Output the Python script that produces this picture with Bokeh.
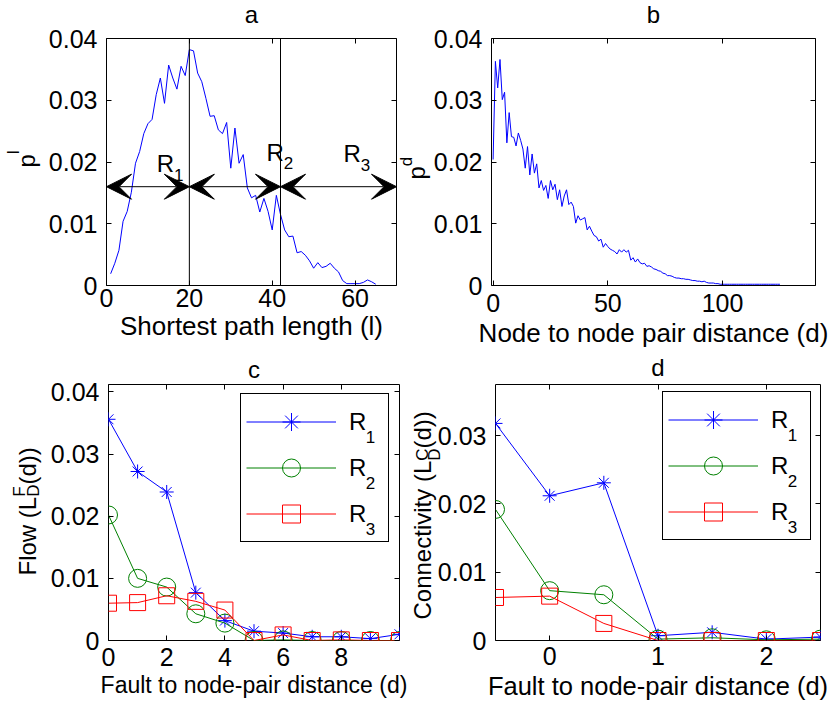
import math
from bokeh.plotting import figure
from bokeh.layouts import column, row
from bokeh.models import (Range1d, Label, Arrow, VeeHead, Span, Legend, LegendItem, Title,
                          FixedTicker, LinearAxis, CustomJSTickFormatter)
from bokeh.embed import file_html
from bokeh.resources import INLINE

# ---------------- data ----------------
# panel a: shortest path length distribution
a_l = list(range(1, 66))
a_p = [0.0019, 0.0036, 0.0057, 0.0104, 0.0120, 0.0151, 0.0198, 0.0217, 0.0246, 0.0262,
       0.0269, 0.0309, 0.0336, 0.0295, 0.0357, 0.0336, 0.0318, 0.0355, 0.0340, 0.0382,
       0.0380, 0.0344, 0.0330, 0.0303, 0.0274, 0.0275, 0.0252, 0.0246, 0.0264, 0.0190,
       0.0255, 0.0198, 0.0212, 0.0158, 0.0142, 0.0146, 0.0119, 0.0141, 0.0120, 0.0090,
       0.0146, 0.0115, 0.0090, 0.0079, 0.0080, 0.0053, 0.0055, 0.0049, 0.0040, 0.0028,
       0.0037, 0.0029, 0.0031, 0.0036, 0.0028, 0.0022, 0.0008, 0.0003, 0.0003, 0.0003,
       0.0003, 0.0005, 0.0009, 0.0006, 0.0002]
region_bounds = [0, 20, 42, 70]
region_subs = ["1", "2", "3"]
region_label_x = [12.1, 38.6, 57.2]
region_label_y = [0.0197, 0.0216, 0.0213]
arrow_y = 0.016

# panel b: node to node pair distance distribution
b_d = list(range(0, 126))
b_p = [0.0204, 0.0363, 0.0320, 0.0366, 0.0301, 0.0313, 0.0231, 0.0280, 0.0241, 0.0240,
       0.0226, 0.0247, 0.0235, 0.0221, 0.0190, 0.0225, 0.0179, 0.0213, 0.0182, 0.0197,
       0.0158, 0.0170, 0.0154, 0.0162, 0.0141, 0.0170, 0.0155, 0.0164, 0.0139, 0.0155,
       0.0128, 0.0145, 0.0155, 0.0131, 0.0135, 0.0128, 0.0101, 0.0113, 0.0106, 0.0108,
       0.0110, 0.0090, 0.0096, 0.0088, 0.0081, 0.0079, 0.0072, 0.0075, 0.0062, 0.0068,
       0.0063, 0.0059, 0.0057, 0.0055, 0.0051, 0.0058, 0.0054, 0.0058, 0.0054, 0.0057,
       0.0041, 0.0045, 0.0038, 0.0043, 0.0037, 0.0035, 0.0036, 0.0031, 0.0032, 0.0030,
       0.0027, 0.0026, 0.0024, 0.0023, 0.0020, 0.0019, 0.0016, 0.0016, 0.0015, 0.0013,
       0.0012, 0.0012, 0.0011, 0.0011, 0.0010, 0.0010, 0.0009, 0.0008, 0.0008, 0.0007,
       0.0007, 0.0006, 0.0007, 0.0005, 0.0004, 0.0004, 0.0004, 0.0003, 0.0003, 0.0002,
       0.0002, 0.0002, 0.0002, 0.0002, 0.0002, 0.0002, 0.0002, 0.0002, 0.0002, 0.0002,
       0.0002, 0.0002, 0.0002, 0.0002, 0.0002, 0.0002, 0.0002, 0.0002, 0.0002, 0.0002,
       0.0002, 0.0002, 0.0002, 0.0002, 0.0002, 0.0002]

# panel c: flow
c_d = [0, 1, 2, 3, 4, 5, 6, 7, 8, 9, 10]
c_r1 = [0.0356, 0.0272, 0.0239, 0.0077, 0.0032, 0.0015, 0.0012, 0.0006, 0.0006, 0.0003, 0.0010]
c_r2 = [0.0202, 0.0100, 0.0086, 0.0043, 0.0028, 0.0000, 0.0001, 0.0000, 0.0000, 0.0000, 0.0000]
c_r3 = [0.0060, 0.0061, 0.0072, 0.0063, 0.0049, 0.0000, 0.0009, 0.0000, 0.0001, 0.0000, 0.0000]

# panel d: connectivity
d_d = [-0.5, 0, 0.5, 1, 1.5, 2, 2.5]
d_r1 = [0.0318, 0.0212, 0.0231, 0.0007, 0.0012, 0.0002, 0.0005]
d_r2 = [0.0192, 0.0073, 0.0067, 0.0002, 0.0004, 0.0001, 0.0002]
d_r3 = [0.0063, 0.0065, 0.0025, 0.0000, 0.0000, 0.0000, 0.0000]

series_names = ["R", "R", "R"]
series_colors = ["#0000ff", "#008000", "#ff0000"]

# ---------------- style helpers ----------------
FONT = "Liberation Sans"
TICK_FS = "25px"
YLAB_FS = 24
SUB_FS = 17
AXIS_W = 58  # width of the left tick-label panel

CW = {' ': 278, '(': 333, ')': 333, '-': 333, '.': 278, 'C': 722, 'D': 722, 'F': 611,
      'L': 556, 'R': 722, 'a': 556, 'c': 500, 'd': 556, 'e': 556, 'i': 222, 'l': 222,
      'n': 556, 'o': 556, 'p': 556, 't': 278, 'v': 500, 'w': 722, 'y': 500}


def tw(s, size):
    return sum(CW.get(ch, 556) for ch in s) * size / 1000.0


def th(size):
    return 1.117 * size


def base_fig(w, h, xr, yr, bl, br, bt, bb):
    p = figure(width=w, height=h, x_range=Range1d(*xr), y_range=Range1d(*yr),
               output_backend="svg", toolbar_location=None,
               min_border_left=bl, min_border_right=br,
               min_border_top=bt, min_border_bottom=bb)
    p.xgrid.visible = False
    p.ygrid.visible = False
    p.outline_line_color = "black"
    p.outline_line_width = 1
    p.outline_line_alpha = 1
    p.border_fill_color = "white"
    p.background_fill_color = "white"
    return p


def style_axes(p, xticks, yticks, xlabel, xlab_fs, x_ls, x_als):
    xa = p.xaxis[0]
    ya = p.yaxis[0]
    for ax, t in ((xa, xticks), (ya, yticks)):
        ax.ticker = FixedTicker(ticks=t)
        ax.major_tick_in = 5
        ax.major_tick_out = 0
        ax.major_tick_line_color = "black"
        ax.minor_tick_line_color = None
        ax.axis_line_color = None
        ax.major_label_text_font = FONT
        ax.major_label_text_font_size = TICK_FS
        ax.major_label_text_color = "black"
    ya.formatter = CustomJSTickFormatter(code="return tick == 0 ? '0' : tick.toFixed(2);")
    xa.major_label_standoff = x_ls
    ya.major_label_standoff = 9
    xa.axis_label = xlabel
    xa.axis_label_text_font = FONT
    xa.axis_label_text_font_size = xlab_fs
    xa.axis_label_text_font_style = "normal"
    xa.axis_label_text_color = "black"
    xa.axis_label_standoff = x_als
    blank = "return '';"
    top = LinearAxis(ticker=FixedTicker(ticks=xticks), formatter=CustomJSTickFormatter(code=blank),
                     major_label_text_font_size="0px", major_label_standoff=0,
                     major_tick_in=5, major_tick_out=0, minor_tick_line_color=None,
                     axis_line_color=None)
    right = LinearAxis(ticker=FixedTicker(ticks=yticks), formatter=CustomJSTickFormatter(code=blank),
                       major_label_text_font_size="0px", major_label_standoff=0,
                       major_tick_in=5, major_tick_out=0, minor_tick_line_color=None,
                       axis_line_color=None)
    p.add_layout(top, "above")
    p.add_layout(right, "right")


def spacer(p, side, size):
    p.add_layout(Title(text=" ", text_font_size="1px", standoff=size - 2 - th(1)), side)


def piece(p, side, text, size, align, offset):
    # zero-thickness title slot: the text's middle line sits on the slot edge
    p.add_layout(Title(text=text, text_font=FONT, text_font_size="%gpx" % size,
                       text_font_style="normal", text_color="black", align=align,
                       offset=offset, vertical_align="middle",
                       standoff=-(2 + th(size))), side)


def add_title(p, text, size, gap):
    spacer(p, "above", gap)
    piece(p, "above", text, size, "center", 0)


def add_ylabel(p, pieces):
    # pieces: (text, font size, middle line x relative to frame left, start along axis)
    edge = -AXIS_W
    for text, size, mx, off in sorted(pieces, key=lambda t: -t[2]):
        gap = edge - mx
        if gap > 0.5:
            spacer(p, "left", gap)
            edge = mx
        piece(p, "left", text, size, "left", off)


LEG_PAD, LEG_GW, LEG_GH, LEG_SP, LEG_SO, LEG_LW = 5, 90, 45, 1, 13, 34


def add_legend(p, rend_groups, loc):
    items = [LegendItem(label=n, renderers=rs) for n, rs in zip(series_names, rend_groups)]
    leg = Legend(items=items, location=loc, orientation="vertical",
                 glyph_width=LEG_GW, glyph_height=LEG_GH, label_height=LEG_GH,
                 label_width=LEG_LW, spacing=LEG_SP, padding=LEG_PAD, margin=0,
                 label_standoff=LEG_SO, label_text_font=FONT, label_text_font_size="24px",
                 label_text_baseline="alphabetic", label_text_color="black",
                 border_line_color="black", border_line_width=1, border_line_alpha=1,
                 background_fill_color=None)
    p.add_layout(leg, "center")
    leg_h = 2 * LEG_PAD + 3 * LEG_GH + 2 * LEG_SP
    sx = loc[0] + LEG_PAD + LEG_GW + LEG_SO + tw("R", 24)
    for i, sub in enumerate(region_subs):
        cy = loc[1] + leg_h - LEG_PAD - LEG_GH / 2.0 - i * (LEG_GH + LEG_SP)
        p.add_layout(Label(x=sx, y=cy - 14, x_units="screen", y_units="screen", text=sub,
                           text_baseline="alphabetic", text_font=FONT, level="overlay",
                           text_font_size="%dpx" % SUB_FS, text_color="black"))


def add_series(p, xs, ys_list):
    groups = []
    markers = [("asterisk", 14), ("circle", 18), ("square", 16)]
    for ys, col, (mk, ms) in zip(ys_list, series_colors, markers):
        lr = p.line(xs, ys, line_color=col, line_width=1)
        sr = p.scatter(xs, ys, marker=mk, size=ms, line_color=col, fill_color=None, line_width=1)
        groups.append([lr, sr])
    return groups


# ---------------- panel a ----------------
pa = base_fig(398, 353, (0, 70), (0, 0.04), 106, 2, 38, 61)
style_axes(pa, [0, 20, 40, 60], [0, 0.01, 0.02, 0.03, 0.04],
           "Shortest path length (l)", "26px", 3, 1)
pa.line(a_l, a_p, line_color="#0000ff", line_width=1)
for xb in region_bounds[1:-1]:
    pa.add_layout(Span(location=xb, dimension="height", line_color="black", line_width=1))
for x0, x1 in zip(region_bounds[:-1], region_bounds[1:]):
    pa.add_layout(Arrow(x_start=x0, x_end=x1, y_start=arrow_y, y_end=arrow_y,
                        line_color="black", line_width=1,
                        start=VeeHead(size=25, fill_color="black", line_color="black"),
                        end=VeeHead(size=25, fill_color="black", line_color="black")))
for lx, ly, sub in zip(region_label_x, region_label_y, region_subs):
    pa.add_layout(Label(x=lx, y=ly, text="R", text_baseline="alphabetic", text_font=FONT,
                        text_font_size="24px", text_color="black"))
    pa.add_layout(Label(x=lx, y=ly, x_offset=tw("R", 24), y_offset=-11, text=sub,
                        text_baseline="alphabetic", text_font=FONT,
                        text_font_size="%dpx" % SUB_FS, text_color="black"))
add_title(pa, "a", 24, 24.3)
s0 = 118
add_ylabel(pa, [("p", YLAB_FS, -76.9, s0), ("l", SUB_FS, -89.9, s0 + tw("p", YLAB_FS))])

# ---------------- panel b ----------------
pb = base_fig(433, 353, (-0.7, 140.5), (0, 0.04), 93, 16, 38, 68)
style_axes(pb, [0, 50, 100], [0, 0.01, 0.02, 0.03, 0.04],
           "Node to node pair distance (d)", "26px", 8, 3)
pb.line(b_d, b_p, line_color="#0000ff", line_width=1)
add_title(pb, "b", 24, 24.3)
s0 = 106
add_ylabel(pb, [("p", YLAB_FS, -72.3, s0), ("d", SUB_FS, -81.9, s0 + tw("p", YLAB_FS))])

# ---------------- panel c ----------------
pc = base_fig(408, 362, (0, 10), (0, 0.0412), 108, 9, 29, 75)
style_axes(pc, [0, 2, 4, 6, 8], [0, 0.01, 0.02, 0.03, 0.04],
           "Fault to node-pair distance (d)", "23px", 7, 3)
gc = add_series(pc, c_d, [c_r1, c_r2, c_r3])
add_legend(pc, gc, (132, 98))
add_title(pc, "c", 24, 15.3)
s0 = 65
s1 = s0 + tw("Flow (L", YLAB_FS)
s2 = s1 + tw("D", SUB_FS)
add_ylabel(pc, [("Flow (L", YLAB_FS, -78, s0), ("D", SUB_FS, -72.2, s1),
                ("F", SUB_FS, -85.6, s1), ("(d))", YLAB_FS, -78, s2)])

# ---------------- panel d ----------------
pd = base_fig(423, 362, (-0.5, 2.5), (0, 0.0375), 87, 11, 31, 71)
style_axes(pd, [0, 1, 2], [0, 0.01, 0.02, 0.03],
           "Fault to node-pair distance (d)", "25.5px", 6, 4)
gd = add_series(pd, d_d, [d_r1, d_r2, d_r3])
add_legend(pd, gd, (167, 100))
add_title(pd, "d", 24, 17.3)
s0 = 21
s1 = s0 + tw("Connectivity (L", YLAB_FS)
s2 = s1 + tw("D", SUB_FS)
add_ylabel(pd, [("Connectivity (L", YLAB_FS, -70, s0), ("D", SUB_FS, -58.5, s1),
                ("C", SUB_FS, -70.5, s1), ("(d))", YLAB_FS, -70, s2)])

layout = column(row(pa, pb), row(pc, pd))
open("out.html", "w").write(file_html(layout, INLINE))
